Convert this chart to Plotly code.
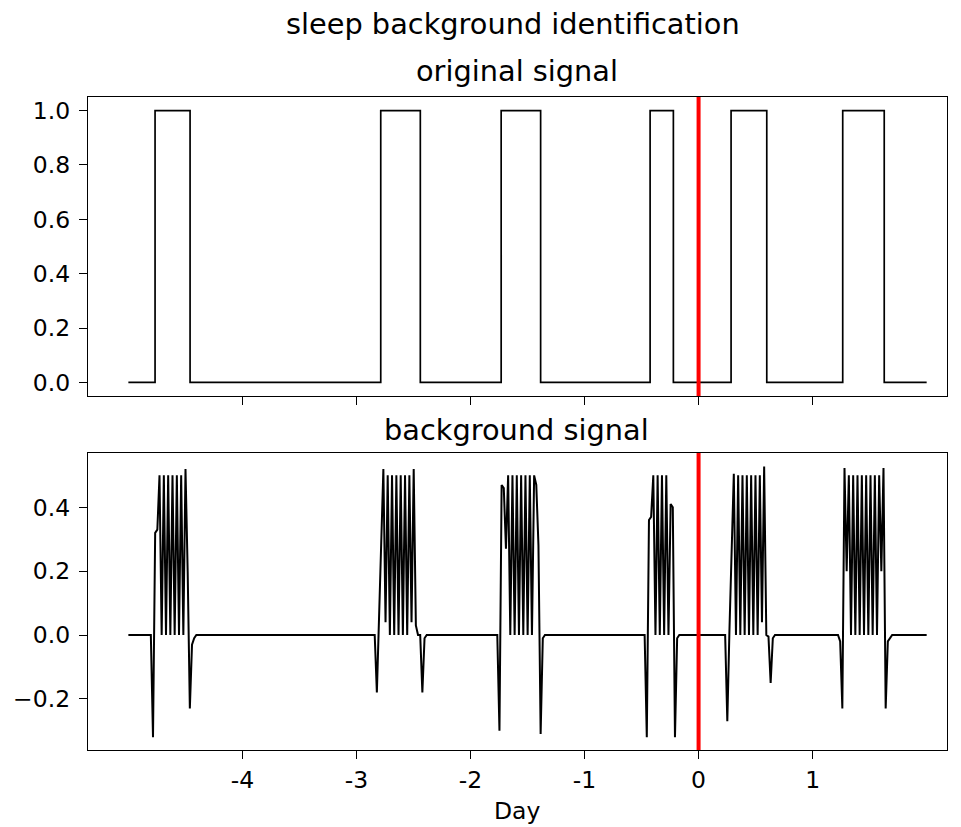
import plotly.graph_objects as go

# ---------------- data ----------------
day_ticks = [-4, -3, -2, -1, 0, 1]
day_tick_labels = ["-4", "-3", "-2", "-1", "0", "1"]
top_y_ticks = [0.0, 0.2, 0.4, 0.6, 0.8, 1.0]
top_y_labels = ["0.0", "0.2", "0.4", "0.6", "0.8", "1.0"]
bot_y_ticks = [-0.2, 0.0, 0.2, 0.4]
bot_y_labels = ["\u22120.2", "0.0", "0.2", "0.4"]

record_start = -5.0
record_end = 2.0
event_day = 0.0

# original signal: sleep episodes (value 1 between onset and offset, else 0)
sleep_onset = [-4.766, -2.787, -1.731, -0.425, 0.285, 1.264]
sleep_offset = [-4.459, -2.440, -1.385, -0.221, 0.598, 1.628]

# background signal: samples around each sleep episode (0 elsewhere)
bg_dt = 0.019  # days between samples
bg_ep_start = [-4.803, -2.840, -1.765, -0.473, 0.233, 1.2226]
bg_ep1 = [0, -0.32, 0.32, 0.33, 0.5, 0, 0.5, 0, 0.5, 0, 0.5, 0, 0.5, 0, 0.5, 0,
          0.52, 0.2, -0.23, -0.03, -0.01, 0]
bg_ep2 = [0, -0.18, 0.05, 0.3, 0.52, 0.04, 0.5, 0, 0.5, 0, 0.5, 0, 0.5, 0, 0.5, 0,
          0.5, 0.04, 0.52, 0.03, 0, 0, -0.18, -0.01, 0]
bg_ep3 = [0, -0.30, 0.47, 0.46, 0.27, 0.5, 0, 0.5, 0, 0.5, 0, 0.5, 0, 0.5, 0, 0.5,
          0, 0.5, 0.47, 0.28, -0.31, -0.01, 0]
bg_ep4 = [0, -0.32, 0.36, 0.37, 0.5, 0, 0.5, 0, 0.5, 0, 0.5, 0, 0.41, 0.40,
          -0.32, -0.01, 0]
bg_ep5 = [0, -0.27, 0.02, 0.28, 0.505, 0, 0.5, 0, 0.5, 0, 0.5, 0, 0.5, 0, 0.5, 0,
          0.5, 0.04, 0.528, 0, -0.005, -0.15, -0.01, 0]
bg_ep6 = [0, -0.02, -0.23, 0.523, 0.2, 0.5, 0, 0.5, 0, 0.5, 0, 0.5, 0, 0.5, 0, 0.5,
          0, 0.5, 0, 0.5, 0.2, 0.523, -0.23, -0.02, -0.01, 0]
bg_episodes = [bg_ep1, bg_ep2, bg_ep3, bg_ep4, bg_ep5, bg_ep6]

# ---------------- build traces ----------------
orig_x, orig_y = [record_start], [0]
for on, off in zip(sleep_onset, sleep_offset):
    orig_x += [on, on, off, off]
    orig_y += [0, 1, 1, 0]
orig_x.append(record_end)
orig_y.append(0)

bg_x, bg_y = [record_start], [0]
for t0, vals in zip(bg_ep_start, bg_episodes):
    for i, v in enumerate(vals):
        bg_x.append(t0 + i * bg_dt)
        bg_y.append(v)
bg_x.append(record_end)
bg_y.append(0)

# page body has an 8px margin: figure drawn 8px right/down of the window corner
OFF = 8
W, H = 961 - OFF, 827 - OFF
FONT = "DejaVu Sans"
TICK_FS = 23.5
TITLE_FS = 28.8


def px_x(p):
    return (p - OFF) / W


def px_y(p):
    return 1 - (p - OFF) / H


x_range = [-5.354, 2.174]

fig = go.Figure()
fig.add_trace(go.Scatter(x=orig_x, y=orig_y, mode="lines",
                         line=dict(color="black", width=1.7),
                         xaxis="x", yaxis="y", showlegend=False))
fig.add_trace(go.Scatter(x=bg_x, y=bg_y, mode="lines",
                         line=dict(color="black", width=2.0),
                         xaxis="x2", yaxis="y2", showlegend=False))

axis_common = dict(showline=True, mirror=True, linecolor="black", linewidth=1.4,
                   ticks="outside", ticklen=8, tickwidth=1.4, tickcolor="black",
                   showgrid=False, zeroline=False,
                   tickfont=dict(family=FONT, size=TICK_FS, color="black"))

xdom = [px_x(88), px_x(946.5)]
fig.update_layout(
    width=W, height=H,
    margin=dict(l=0, r=0, t=0, b=0),
    paper_bgcolor="white", plot_bgcolor="white",
    showlegend=False,
    xaxis=dict(domain=xdom, range=x_range, anchor="y",
               tickvals=day_ticks, ticktext=day_tick_labels,
               showticklabels=False, **axis_common),
    yaxis=dict(domain=[px_y(396), px_y(97)], range=[-0.05, 1.05], anchor="x",
               tickvals=top_y_ticks, ticktext=top_y_labels,
               ticklabelstandoff=4, **axis_common),
    xaxis2=dict(domain=xdom, range=x_range, anchor="y2",
                tickvals=day_ticks, ticktext=day_tick_labels,
                ticklabelstandoff=1, **axis_common),
    yaxis2=dict(domain=[px_y(750), px_y(453)], range=[-0.360, 0.570], anchor="x2",
                tickvals=bot_y_ticks, ticktext=bot_y_labels,
                ticklabelstandoff=4, **axis_common),
)

# event marker (red vertical line) in both panels
fig.add_shape(type="line", xref="x", yref="y domain", x0=event_day, x1=event_day,
              y0=0, y1=1, line=dict(color="red", width=4), layer="above")
fig.add_shape(type="line", xref="x2", yref="y2 domain", x0=event_day, x1=event_day,
              y0=0, y1=1, line=dict(color="red", width=4), layer="above")


def label(text, xc, yc, size):
    fig.add_annotation(text=text, xref="paper", yref="paper",
                       x=px_x(xc), y=px_y(yc), xanchor="center", yanchor="middle",
                       showarrow=False,
                       font=dict(family=FONT, size=size, color="black"))


label("sleep background identification", 513, 24, TITLE_FS)
label("original signal", 517, 71, TITLE_FS)
label("background signal", 517, 430, TITLE_FS)
label("Day", 517, 811, TICK_FS)

fig.write_html("out.html")
